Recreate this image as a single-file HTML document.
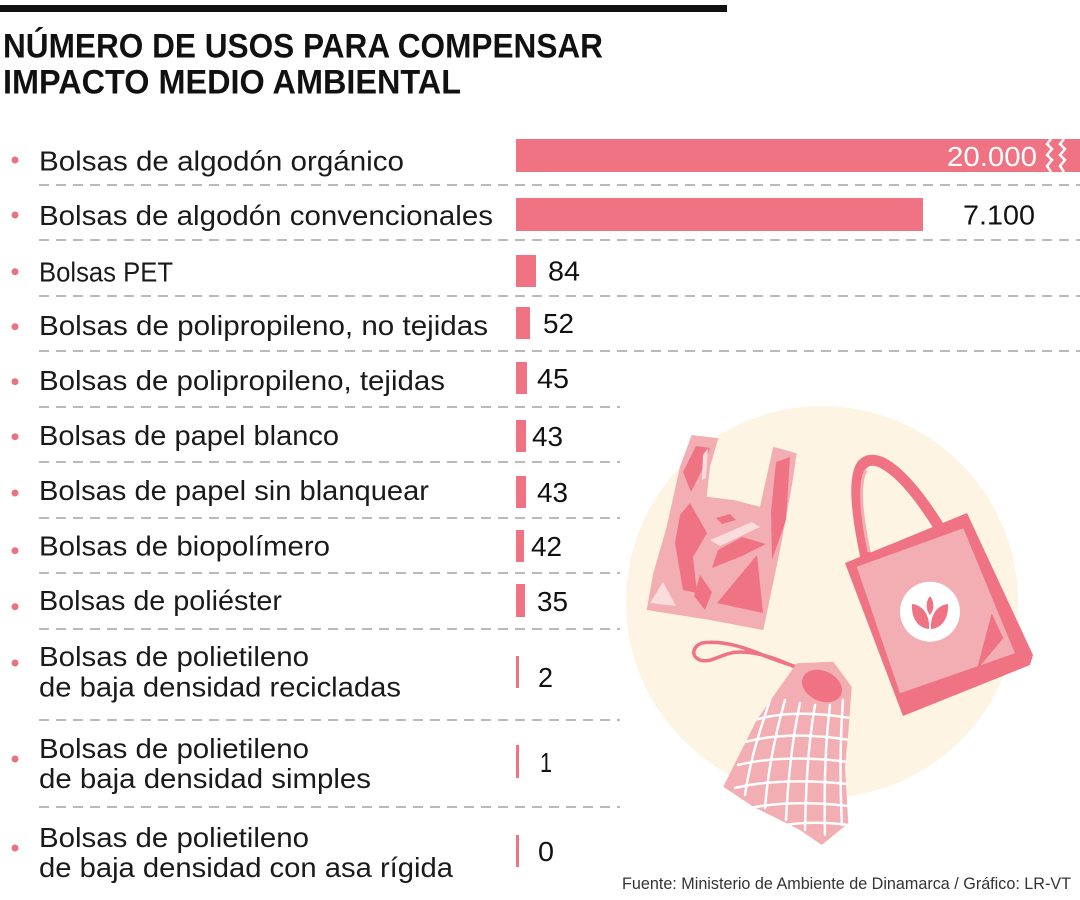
<!DOCTYPE html>
<html>
<head>
<meta charset="utf-8">
<style>
html,body{margin:0;padding:0;background:#ffffff;}
svg{display:block;}
text{font-family:"Liberation Sans",sans-serif;}
</style>
</head>
<body>
<svg width="1080" height="900" viewBox="0 0 1080 900" xmlns="http://www.w3.org/2000/svg">
  <rect x="0" y="0" width="1080" height="900" fill="#ffffff"/>
  <!-- top black rule -->
  <rect x="0" y="5" width="727" height="7" fill="#111111"/>
  <!-- title -->
  <text x="3" y="57.5" font-size="34" font-weight="bold" fill="#111" textLength="600" lengthAdjust="spacingAndGlyphs">NÚMERO DE USOS PARA COMPENSAR</text>
  <text x="3" y="93.5" font-size="34" font-weight="bold" fill="#111" textLength="458" lengthAdjust="spacingAndGlyphs">IMPACTO MEDIO AMBIENTAL</text>

  <!-- illustration background circle -->
  <circle cx="822" cy="602" r="196" fill="#FDF4E3"/>

  <!-- dashed separators -->
  <g stroke="#a3a3a3" stroke-width="1.5" stroke-dasharray="10 7">
    <line x1="39" y1="185" x2="1080" y2="185"/>
    <line x1="39" y1="240" x2="1080" y2="240"/>
    <line x1="39" y1="296" x2="1080" y2="296"/>
    <line x1="39" y1="351" x2="1080" y2="351"/>
    <line x1="39" y1="407" x2="620" y2="407"/>
    <line x1="39" y1="462" x2="620" y2="462"/>
    <line x1="39" y1="518" x2="620" y2="518"/>
    <line x1="39" y1="573" x2="620" y2="573"/>
    <line x1="39" y1="629" x2="620" y2="629"/>
    <line x1="39" y1="720" x2="620" y2="720"/>
    <line x1="39" y1="807" x2="620" y2="807"/>
  </g>

  <!-- bullets -->
  <g fill="#E8737F">
    <circle cx="15" cy="160" r="3.5"/>
    <circle cx="15" cy="215" r="3.5"/>
    <circle cx="15" cy="271.7" r="3.5"/>
    <circle cx="15" cy="326.7" r="3.5"/>
    <circle cx="15" cy="381.7" r="3.5"/>
    <circle cx="15" cy="436.7" r="3.5"/>
    <circle cx="15" cy="493" r="3.5"/>
    <circle cx="15" cy="550.7" r="3.5"/>
    <circle cx="15" cy="606.7" r="3.5"/>
    <circle cx="15" cy="663" r="3.5"/>
    <circle cx="15" cy="759" r="3.5"/>
    <circle cx="15" cy="848" r="3.5"/>
  </g>

  <!-- labels -->
  <g font-size="28" fill="#1a1a1a">
    <text x="39" y="170.7" textLength="365" lengthAdjust="spacingAndGlyphs">Bolsas de algodón orgánico</text>
    <text x="39" y="225" textLength="454" lengthAdjust="spacingAndGlyphs">Bolsas de algodón convencionales</text>
    <text x="39" y="281.7" textLength="134" lengthAdjust="spacingAndGlyphs">Bolsas PET</text>
    <text x="39" y="335" textLength="449" lengthAdjust="spacingAndGlyphs">Bolsas de polipropileno, no tejidas</text>
    <text x="39" y="390" textLength="406" lengthAdjust="spacingAndGlyphs">Bolsas de polipropileno, tejidas</text>
    <text x="39" y="445" textLength="300" lengthAdjust="spacingAndGlyphs">Bolsas de papel blanco</text>
    <text x="39" y="500" textLength="390" lengthAdjust="spacingAndGlyphs">Bolsas de papel sin blanquear</text>
    <text x="39" y="555.7" textLength="291" lengthAdjust="spacingAndGlyphs">Bolsas de biopolímero</text>
    <text x="39" y="610" textLength="243" lengthAdjust="spacingAndGlyphs">Bolsas de poliéster</text>
    <text x="39" y="666" textLength="270" lengthAdjust="spacingAndGlyphs">Bolsas de polietileno</text>
    <text x="39" y="696.7" textLength="362" lengthAdjust="spacingAndGlyphs">de baja densidad recicladas</text>
    <text x="39" y="758" textLength="270" lengthAdjust="spacingAndGlyphs">Bolsas de polietileno</text>
    <text x="39" y="788" textLength="332" lengthAdjust="spacingAndGlyphs">de baja densidad simples</text>
    <text x="39" y="847" textLength="270" lengthAdjust="spacingAndGlyphs">Bolsas de polietileno</text>
    <text x="39" y="877" textLength="414" lengthAdjust="spacingAndGlyphs">de baja densidad con asa rígida</text>
  </g>

  <!-- bars -->
  <g fill="#EF7383">
    <rect x="516" y="139" width="564" height="33"/>
    <rect x="516" y="198" width="407" height="33"/>
    <rect x="516" y="255" width="20" height="32"/>
    <rect x="516" y="307" width="14" height="32"/>
    <rect x="516" y="362" width="11" height="32"/>
    <rect x="516" y="420" width="10" height="32"/>
    <rect x="516" y="476" width="10" height="32"/>
    <rect x="516" y="530" width="8" height="32"/>
    <rect x="516" y="584" width="9" height="33"/>
    <rect x="516" y="656" width="3" height="32"/>
    <rect x="516" y="745" width="3" height="33"/>
    <rect x="516" y="835" width="3" height="32"/>
  </g>
  <!-- break marks on first bar -->
  <g fill="none" stroke="#ffffff" stroke-width="2.5" stroke-linejoin="miter">
    <polyline points="1051,139 1047,144 1052,149 1047,155 1052,160 1047,166 1051,172"/>
    <polyline points="1064,139 1060,144 1065,149 1060,155 1065,160 1060,166 1064,172"/>
  </g>

  <!-- values -->
  <text x="947" y="166" font-size="28" fill="#ffffff" textLength="90" lengthAdjust="spacingAndGlyphs">20.000</text>
  <g font-size="28" fill="#111">
    <text x="963" y="224.5" textLength="72" lengthAdjust="spacingAndGlyphs">7.100</text>
    <text x="548" y="280.5" textLength="32" lengthAdjust="spacingAndGlyphs">84</text>
    <text x="543" y="333" textLength="31" lengthAdjust="spacingAndGlyphs">52</text>
    <text x="537" y="388" textLength="32" lengthAdjust="spacingAndGlyphs">45</text>
    <text x="532" y="446" textLength="31" lengthAdjust="spacingAndGlyphs">43</text>
    <text x="537" y="502" textLength="31" lengthAdjust="spacingAndGlyphs">43</text>
    <text x="531" y="556" textLength="31" lengthAdjust="spacingAndGlyphs">42</text>
    <text x="537" y="611" textLength="31" lengthAdjust="spacingAndGlyphs">35</text>
    <text x="538" y="687" textLength="15" lengthAdjust="spacingAndGlyphs">2</text>
    <text x="540" y="772" textLength="12" lengthAdjust="spacingAndGlyphs">1</text>
    <text x="538" y="861" textLength="16" lengthAdjust="spacingAndGlyphs">0</text>
  </g>

  <!-- plastic bag -->
  <polygon fill="#F2AEB2" points="691.7,435 718.3,438.3 710,466.7 706.7,496.7 733.3,500 760,506.7 773.3,446.7 796.7,453.3 791.7,486.7 780,550 763.3,630 710,620 646.7,610 653.3,573.3 666.7,526.7 680,466.7"/>
  <g fill="#EF7383">
    <polygon points="683,472 696,446 710,448 701,472 691,492"/>
    <polygon points="675,543 683,590 697,593 693,557 707,533 690,503 680,515"/>
    <polygon points="717,603 757,555 763,613"/>
    <polygon points="776,462 790,457 786,520 772,560 771,512"/>
    <polygon points="718,550 742,537 766,544 742,556 712,568"/>
    <polygon points="716,518 730,514 736,520 722,524"/>
    <polygon points="700,575 712,592 705,610 694,596"/>
  </g>
  <g fill="#FADCDD">
    <polygon points="710,540 752,522 760,527 720,546"/>
    <polygon points="650,603 663,582 676,606"/>
    <polygon points="703,455 708,448 706,478 702,480"/>
  </g>

  <!-- tote bag -->
  <path d="M866,558 C858,520 852,480 862,465 C875,450 905,470 944,535" fill="none" stroke="#EF7383" stroke-width="11" stroke-linecap="round"/>
  <path d="M869,552 C862,518 858,484 866,470" fill="none" stroke="#F2AEB2" stroke-width="3"/>
  <polygon fill="#EF7383" points="845,563 967,513 1033,655 1030,665 903,716"/>
  <polygon fill="#F2AEB2" points="856.7,566.7 963.3,528.3 1015,653.3 900,693.3"/>
  <polygon fill="#EF7383" points="976.7,670 1003.3,638.3 991.7,613.3"/>
  <circle cx="930" cy="611.7" r="30" fill="#ffffff"/>
  <g fill="#EF7383">
    <path d="M929,629 C918,628 911,618 912,604 C922,605 930,614 929,629 Z"/>
    <path d="M931,629 C942,628 949,618 948,604 C938,605 930,614 931,629 Z"/>
    <path d="M930,615 C925,609 926,601 930,596 C934,601 935,609 930,615 Z"/>
  </g>

  <!-- net bag -->
  <path d="M797,668 C780,660 760,652 740,652 C722,652 712,664 700,660 C690,656 693,646 702,643 C720,640 742,646 765,656 C778,661 790,665 800,668" fill="none" stroke="#EF7383" stroke-width="3.5" stroke-linecap="round"/>
  <clipPath id="netclip">
    <polygon points="796.7,663.3 833.3,661.7 851.7,686.7 848.3,733.3 845,766.7 848.3,823.3 821.7,845 800,830 753.3,806.7 723.3,786.7 740,753.3 756.7,720 780,686.7"/>
  </clipPath>
  <polygon fill="#F2AEB2" points="796.7,663.3 833.3,661.7 851.7,686.7 848.3,733.3 845,766.7 848.3,823.3 821.7,845 800,830 753.3,806.7 723.3,786.7 740,753.3 756.7,720 780,686.7"/>
  <ellipse cx="822" cy="686" rx="21" ry="15" transform="rotate(25 822 686)" fill="#EF7383"/>
  <g clip-path="url(#netclip)" fill="none" stroke="#ffffff" stroke-width="2.5" stroke-linecap="round">
    <path d="M770,700 C760,730 750,760 745,795"/>
    <path d="M785,700 C775,735 768,770 765,808"/>
    <path d="M800,703 C792,740 788,780 786,820"/>
    <path d="M815,705 C808,745 806,785 805,830"/>
    <path d="M830,705 C825,745 824,790 825,835"/>
    <path d="M843,700 C840,740 840,785 842,825"/>
    <path d="M755,720 C780,712 815,712 850,718"/>
    <path d="M745,742 C775,734 812,734 850,740"/>
    <path d="M738,765 C770,757 810,757 848,762"/>
    <path d="M735,788 C768,780 808,780 848,784"/>
    <path d="M750,808 C780,802 812,802 848,806"/>
    <path d="M785,825 C805,822 825,822 848,825"/>
  </g>

  <!-- source -->
  <text x="622" y="889" font-size="17" fill="#333" textLength="449" lengthAdjust="spacingAndGlyphs">Fuente: Ministerio de Ambiente de Dinamarca / Gráfico: LR-VT</text>
</svg>
</body>
</html>
